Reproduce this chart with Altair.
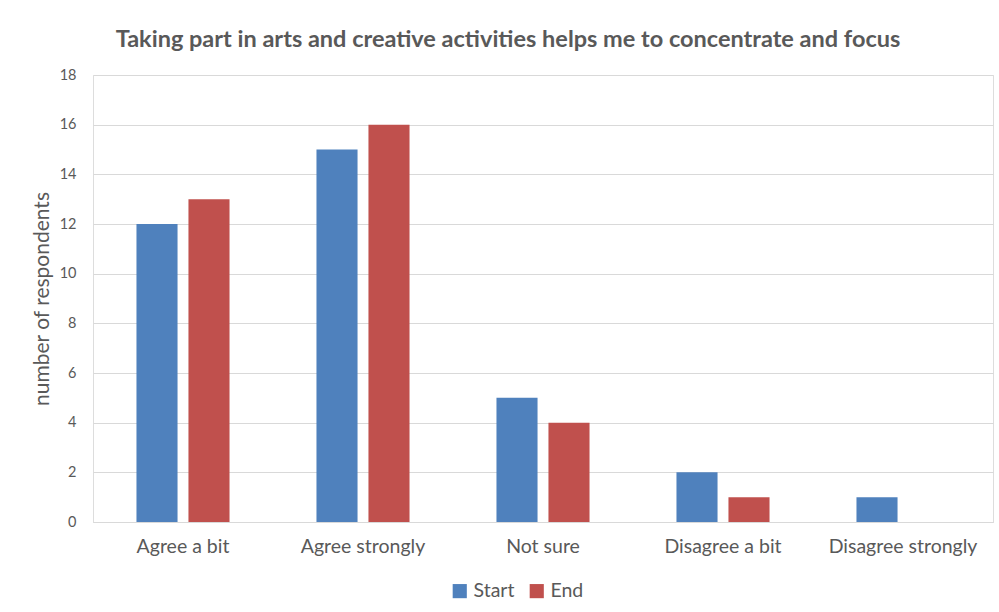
import altair as alt
import pandas as pd

categories = ["Agree a bit", "Agree strongly", "Not sure", "Disagree a bit", "Disagree strongly"]
series = ["Start", "End"]
start_vals = [12, 15, 5, 2, 1]
end_vals = [13, 16, 4, 1, 0]
colors = ["#4F81BD", "#C0504D"]

rows = []
for c, s, e in zip(categories, start_vals, end_vals):
    rows.append({"category": c, "series": "Start", "value": s})
    rows.append({"category": c, "series": "End", "value": e})
df = pd.DataFrame(rows)

FONT = "Lato"
GREY = "#595959"

chart = alt.Chart(df).mark_bar().encode(
    x=alt.X("category:N", sort=categories,
            scale=alt.Scale(paddingInner=0.483, paddingOuter=0.2415),
            axis=alt.Axis(title=None, labelAngle=0, ticks=False, domain=True,
                          domainColor="#d9d9d9", labelFontSize=19.5, labelColor=GREY,
                          labelFont=FONT, labelPadding=15)),
    xOffset=alt.XOffset("series:N", sort=series,
                        scale=alt.Scale(paddingInner=0.21, paddingOuter=0)),
    y=alt.Y("value:Q", scale=alt.Scale(domain=[0, 18]),
            axis=alt.Axis(title="number of respondents", values=list(range(0, 19, 2)),
                          ticks=False, domain=False, gridColor="#d9d9d9",
                          labelFontSize=14.5, labelColor=GREY, labelFont=FONT,
                          labelPadding=17, titleFontSize=21, titleColor=GREY,
                          titleFont=FONT, titleFontWeight="normal", titlePadding=7)),
    color=alt.Color("series:N", sort=series,
                    scale=alt.Scale(domain=series, range=colors),
                    legend=alt.Legend(title=None, orient="none", direction="horizontal",
                                      legendX=357, legendY=506,
                                      symbolType="square", symbolSize=200,
                                      labelFontSize=19.5, labelColor=GREY, labelFont=FONT,
                                      symbolStrokeWidth=0, columnPadding=12)),
).properties(
    width=900, height=447,
    title=alt.TitleParams("Taking part in arts and creative activities helps me to concentrate and focus",
                          font=FONT, fontSize=23.5, fontWeight="bold", color=GREY,
                          anchor="middle", dx=-35, offset=16),
    autosize=alt.AutoSizeParams(type="none"),
    padding={"left": 93, "top": 75, "right": 6, "bottom": 90},
).configure_view(stroke=None).configure(background="white")

chart.save("out.html", embed_options={"renderer": "svg", "actions": False})
